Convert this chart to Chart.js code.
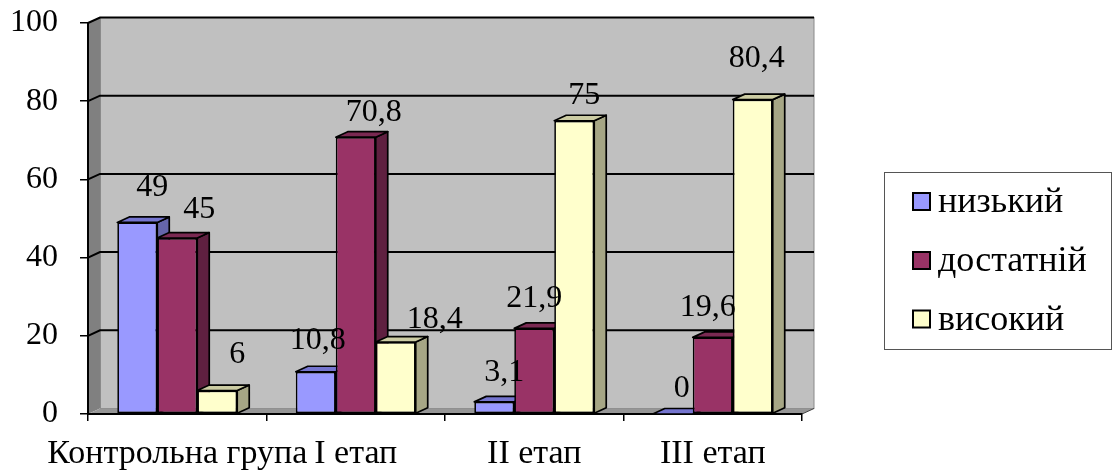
<!DOCTYPE html>
<html>
<head>
<meta charset="utf-8">
<script src="https://cdn.jsdelivr.net/npm/chart.js@4.4.1/dist/chart.umd.min.js"></script>
<style>
  html, body { margin: 0; padding: 0; background: #ffffff; }
  #wrap { position: relative; width: 1115px; height: 473px; }
</style>
</head>
<body>
<div id="wrap"><canvas id="chart" width="1115" height="473"></canvas></div>
<script>
// Categories and series values
const categories = ['Контрольна група', 'I етап', 'II етап', 'III етап'];
const seriesNames = ['низький', 'достатній', 'високий'];
const lowValues = [49, 10.8, 3.1, 0];
const midValues = [45, 70.8, 21.9, 19.6];
const highValues = [6, 18.4, 75, 80.4];
const yTickValues = [0, 20, 40, 60, 80, 100];

const FONT = '"Times New Roman", "Liberation Serif", serif';

// Face colours: front, top, side
const palette = [
  { front: '#9999FF', top: '#7575CF', side: '#6565AA' },
  { front: '#993366', top: '#7A2952', side: '#5F2040' },
  { front: '#FFFFCC', top: '#CCCCA3', side: '#A6A685' }
];

// Depth of the pseudo-3D box (walls and bars)
const DX = 12, DY = -5.5;

// Per-label nudges (px) relative to the default anchor above each bar
const labelNudge = [
  [[5, -6], [-8, -2], [0, 0], [-1, 3]],
  [[12, 0], [8, 4], [-10, -1], [-15, -1]],
  [[10, -7], [29, 6], [0, 4], [-6, -12]]
];

function fmt(v) { return String(v).replace('.', ','); }

const wallsPlugin = {
  id: 'walls',
  beforeDraw(chart) {
    const { ctx, chartArea: a, scales: { y } } = chart;
    ctx.save();
    // left side wall
    ctx.fillStyle = '#808080';
    ctx.beginPath();
    ctx.moveTo(a.left, a.bottom);
    ctx.lineTo(a.left, a.top);
    ctx.lineTo(a.left + DX, a.top + DY);
    ctx.lineTo(a.left + DX, a.bottom + DY);
    ctx.closePath();
    ctx.fill();
    // back wall
    ctx.fillStyle = '#C0C0C0';
    ctx.fillRect(a.left + DX, a.top + DY, a.right - a.left, a.bottom - a.top);
    ctx.strokeStyle = '#8a8a8a';
    ctx.lineWidth = 1;
    ctx.strokeRect(a.left + DX + 0.5, a.top + DY, a.right - a.left - 0.5, a.bottom - a.top);
    // floor
    ctx.fillStyle = '#969696';
    ctx.beginPath();
    ctx.moveTo(a.left, a.bottom);
    ctx.lineTo(a.right, a.bottom);
    ctx.lineTo(a.right + DX, a.bottom + DY);
    ctx.lineTo(a.left + DX, a.bottom + DY);
    ctx.closePath();
    ctx.fill();
    ctx.strokeStyle = '#444';
    ctx.lineWidth = 1;
    ctx.beginPath();
    ctx.moveTo(a.right, a.bottom);
    ctx.lineTo(a.right + DX, a.bottom + DY);
    ctx.stroke();
    // grid lines across side and back walls
    ctx.strokeStyle = '#000';
    ctx.lineWidth = 2;
    y.ticks.forEach(t => {
      if (t.value === 0) return;
      const py = y.getPixelForValue(t.value);
      ctx.beginPath();
      ctx.moveTo(a.left, py);
      ctx.lineTo(a.left + DX, py + DY);
      ctx.lineTo(a.right + DX, py + DY);
      ctx.stroke();
    });
    ctx.restore();
  },
  beforeDatasetsDraw(chart) {
    const { ctx } = chart;
    ctx.save();
    ctx.strokeStyle = '#000';
    ctx.lineWidth = 1.7;
    ctx.lineJoin = 'round';
    const n = chart.data.labels.length;
    for (let i = 0; i < n; i++) {
      chart.data.datasets.forEach((ds, d) => {
        const bar = chart.getDatasetMeta(d).data[i];
        const p = bar.getProps(['x', 'y', 'base', 'width'], true);
        const l = p.x - p.width / 2, r = p.x + p.width / 2;
        const top = Math.min(p.y, p.base), base = Math.max(p.y, p.base);
        // side face
        ctx.fillStyle = palette[d].side;
        ctx.beginPath();
        ctx.moveTo(r, top);
        ctx.lineTo(r + DX, top + DY);
        ctx.lineTo(r + DX, base + DY);
        ctx.lineTo(r, base);
        ctx.closePath();
        ctx.fill();
        ctx.stroke();
        // top face
        ctx.fillStyle = palette[d].top;
        ctx.beginPath();
        ctx.moveTo(l, top);
        ctx.lineTo(r, top);
        ctx.lineTo(r + DX, top + DY);
        ctx.lineTo(l + DX, top + DY);
        ctx.closePath();
        ctx.fill();
        ctx.stroke();
      });
    }
    ctx.restore();
  },
  afterDatasetsDraw(chart) {
    const { ctx } = chart;
    ctx.save();
    ctx.fillStyle = '#000';
    ctx.font = '32px ' + FONT;
    ctx.textAlign = 'center';
    ctx.textBaseline = 'alphabetic';
    chart.data.datasets.forEach((ds, d) => {
      chart.getDatasetMeta(d).data.forEach((bar, i) => {
        const p = bar.getProps(['x', 'y'], true);
        const nudge = labelNudge[d][i];
        const cx = p.x + 10 + nudge[0];
        const cy = p.y - 31 + nudge[1];
        ctx.fillText(fmt(ds.data[i]), cx, cy + 10.5);
      });
    });
    ctx.restore();
  },
  afterDraw(chart) {
    // legend box
    const { ctx } = chart;
    ctx.save();
    ctx.strokeStyle = '#555';
    ctx.lineWidth = 1;
    ctx.strokeRect(884.5, 172.5, 227, 177);
    ctx.font = '36px ' + FONT;
    ctx.textAlign = 'left';
    ctx.textBaseline = 'alphabetic';
    const rows = [201.5, 260.5, 319];
    chart.data.datasets.forEach((ds, d) => {
      const cy = rows[d];
      ctx.fillStyle = ds.backgroundColor;
      ctx.fillRect(913, cy - 8.5, 17, 17);
      ctx.strokeStyle = '#000';
      ctx.lineWidth = 2;
      ctx.strokeRect(913, cy - 8.5, 17, 17);
      ctx.fillStyle = '#000';
      ctx.fillText(ds.label, 938, cy + 10.5);
    });
    ctx.restore();
  }
};

const seriesValues = [lowValues, midValues, highValues];

new Chart(document.getElementById('chart'), {
  type: 'bar',
  data: {
    labels: categories,
    datasets: seriesNames.map((name, d) => ({
      label: name,
      data: seriesValues[d],
      backgroundColor: palette[d].front,
      borderColor: '#000',
      borderWidth: 1.7,
      borderSkipped: false,
      categoryPercentage: 0.672,
      barPercentage: 1
    }))
  },
  options: {
    responsive: false,
    devicePixelRatio: 1,
    animation: false,
    layout: { padding: { top: 23, right: 313, left: 0, bottom: 0 } },
    plugins: { legend: { display: false }, tooltip: { enabled: false } },
    scales: {
      x: {
        offset: true,
        grid: { display: true, drawOnChartArea: false, drawTicks: true, tickLength: 7, color: '#000', lineWidth: 1.5, offset: true },
        border: { display: true, color: '#000', width: 2 },
        ticks: { color: '#000', font: { family: FONT, size: 34 }, padding: 13, maxRotation: 0, minRotation: 0, autoSkip: false },
        afterFit(s) { s.height = 59; s.paddingLeft = 0; s.paddingRight = 0; }
      },
      y: {
        min: 0,
        max: 100,
        afterBuildTicks(s) { s.ticks = yTickValues.map(v => ({ value: v })); },
        grid: { display: true, drawOnChartArea: false, drawTicks: true, tickLength: 8, color: '#000', lineWidth: 1.5 },
        border: { display: true, color: '#000', width: 2 },
        ticks: { color: '#000', font: { family: FONT, size: 32 }, padding: 22 },
        afterFit(s) { s.width = 88; s.paddingTop = 0; s.paddingBottom = 0; }
      }
    }
  },
  plugins: [wallsPlugin]
});
</script>
</body>
</html>
